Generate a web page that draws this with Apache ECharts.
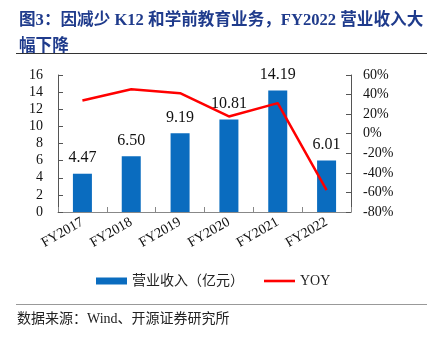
<!DOCTYPE html>
<html><head><meta charset="utf-8">
<script src="https://cdn.jsdelivr.net/npm/echarts@6/dist/echarts.min.js"></script>
<style>html,body{margin:0;padding:0;background:#fff;}#c{width:437px;height:355px;}</style>
</head><body><div id="c"></div>
<script>
const categories = ['FY2017','FY2018','FY2019','FY2020','FY2021','FY2022'];
const revenue = [4.47, 6.50, 9.19, 10.81, 14.19, 6.01];
const yoy = [34, 45.4, 41.4, 17.6, 31.3, -57.6];
const leftTicks = {min:0, max:16, interval:2};
const rightTicks = {min:-80, max:60, interval:20};

const serif = '"Liberation Serif","Times New Roman","Noto Sans CJK SC",serif';
const chart = echarts.init(document.getElementById('c'));
chart.setOption({
  animation:false,
  backgroundColor:'#fff',
  title:{
    text:'图3：因减少 K12 和学前教育业务，FY2022 营业收入大\n幅下降',
    left:14, top:3,
    textStyle:{fontFamily:serif, fontWeight:'bold', fontSize:16.6, color:'#1F3B8C', lineHeight:26}
  },
  graphic:[
    {type:'line', shape:{x1:16,y1:53.5,x2:427,y2:53.5}, style:{stroke:'#333',lineWidth:1}},
    {type:'line', shape:{x1:16,y1:304.5,x2:427,y2:304.5}, style:{stroke:'#999',lineWidth:1}},
    {type:'text', left:17, top:312, style:{text:'数据来源：Wind、开源证券研究所', font:'14px '+serif, fill:'#222'}}
  ],
  legend:{
    left:91, top:269, itemGap:20,
    itemWidth:31, itemHeight:7,
    textStyle:{fontFamily:serif, fontSize:14, color:'#222'},
    data:[{name:'营业收入（亿元）', icon:'rect'}, {name:'YOY', icon:'path://M0,0H31V2.6H0Z'}]
  },
  grid:{left:58, right:86, top:75, bottom:143},
  xAxis:{
    type:'category', data:categories,
    axisLine:{lineStyle:{color:'#888'}},
    axisTick:{show:true, inside:true, lineStyle:{color:'#888'}},
    axisLabel:{rotate:30, fontFamily:serif, fontSize:14, color:'#111', margin:9}
  },
  yAxis:[
    {type:'value', min:leftTicks.min, max:leftTicks.max, interval:leftTicks.interval,
     splitLine:{show:false},
     axisLine:{show:true, lineStyle:{color:'#555'}},
     axisTick:{show:true, inside:true, lineStyle:{color:'#555'}},
     axisLabel:{fontFamily:serif, fontSize:14, color:'#111', margin:15}},
    {type:'value', min:rightTicks.min, max:rightTicks.max, interval:rightTicks.interval,
     splitLine:{show:false},
     axisLine:{show:true, lineStyle:{color:'#555'}},
     axisTick:{show:true, inside:true, lineStyle:{color:'#555'}},
     axisLabel:{fontFamily:serif, fontSize:14, color:'#111', margin:12, formatter:'{value}%'}}
  ],
  series:[
    {name:'营业收入（亿元）', type:'bar', data:revenue, barWidth:19,
     itemStyle:{color:'#0A6CBF'},
     label:{show:true, position:'top', distance:8, fontFamily:serif, fontSize:16, color:'#111',
            formatter:p=>p.value.toFixed(2)}},
    {name:'YOY', type:'line', yAxisIndex:1, data:yoy, symbol:'none',
     lineStyle:{color:'#FF0000', width:2.5}, itemStyle:{color:'#FF0000'}}
  ]
});
</script></body></html>
